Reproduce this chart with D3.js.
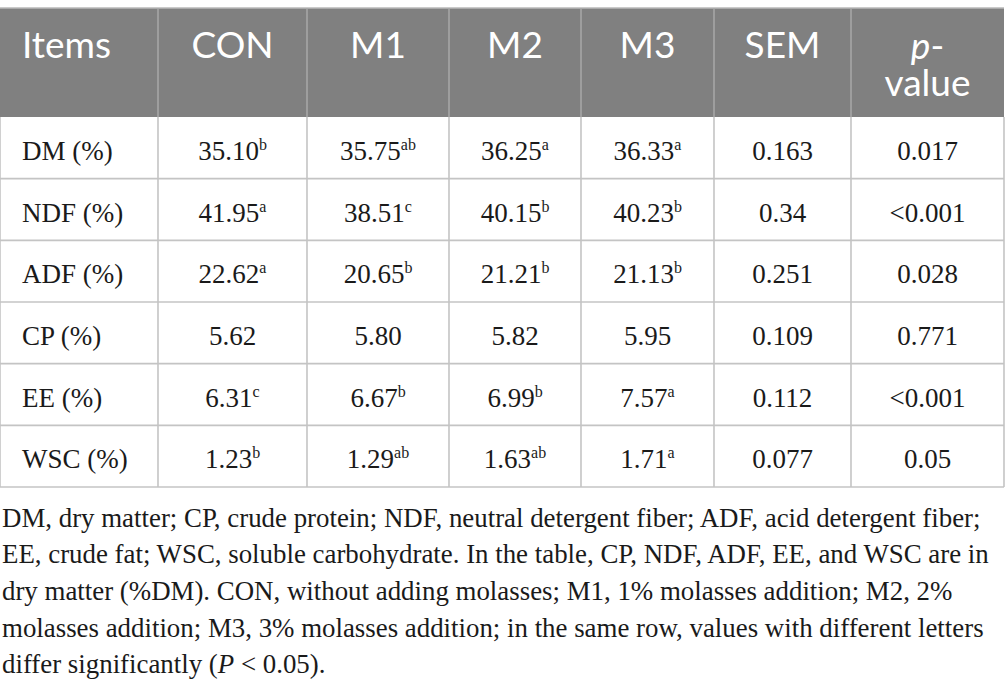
<!DOCTYPE html>
<html><head><meta charset="utf-8">
<script src="https://cdn.jsdelivr.net/npm/d3@7/dist/d3.min.js"></script>
<style>html,body{margin:0;padding:0;background:#fff;}svg{display:block;}</style>
</head><body>
<script>
// ---- data ----
const headers = ["Items","CON","M1","M2","M3","SEM","p-value"];
const items = ["DM (%)","NDF (%)","ADF (%)","CP (%)","EE (%)","WSC (%)"];
const conVals = ["35.10","41.95","22.62","5.62","6.31","1.23"];
const conSup  = ["b","a","a","","c","b"];
const m1Vals  = ["35.75","38.51","20.65","5.80","6.67","1.29"];
const m1Sup   = ["ab","c","b","","b","ab"];
const m2Vals  = ["36.25","40.15","21.21","5.82","6.99","1.63"];
const m2Sup   = ["a","b","b","","b","ab"];
const m3Vals  = ["36.33","40.23","21.13","5.95","7.57","1.71"];
const m3Sup   = ["a","b","b","","a","a"];
const semVals = ["0.163","0.34","0.251","0.109","0.112","0.077"];
const pVals   = ["0.017","<0.001","0.028","0.771","<0.001","0.05"];
const caption = [
  "DM, dry matter; CP, crude protein; NDF, neutral detergent fiber; ADF, acid detergent fiber;",
  "EE, crude fat; WSC, soluble carbohydrate. In the table, CP, NDF, ADF, EE, and WSC are in",
  "dry matter (%DM). CON, without adding molasses; M1, 1% molasses addition; M2, 2%",
  "molasses addition; M3, 3% molasses addition; in the same row, values with different letters",
  "differ significantly (P < 0.05)."
];

// ---- layout ----
const W = 1005, H = 693;
const colEdges = [0,158,307,449,581,714,851,1004];
const headTop = 8, headBottom = 117, tableBottom = 487;
const svg = d3.select("body").append("svg").attr("width",W).attr("height",H);

const y = d3.scaleBand().domain(items).range([headBottom, tableBottom]);
const x = d3.scaleOrdinal().domain(headers).range(colEdges.slice(0,-1));
const colW = h => colEdges[headers.indexOf(h)+1] - colEdges[headers.indexOf(h)];

// header
svg.append("rect").attr("x",colEdges[0]).attr("y",headTop)
  .attr("width",colEdges[7]-colEdges[0]).attr("height",headBottom-headTop).attr("fill","#808080");
svg.append("line").attr("x1",0).attr("x2",1004).attr("y1",headTop).attr("y2",headTop)
  .attr("stroke","#b8b8b8").attr("stroke-width",1.5);

const hFont = "Lato, 'Open Sans', sans-serif";
headers.forEach((h,i)=>{
  const cx = i===0 ? x(h)+22 : x(h)+colW(h)/2;
  const t = svg.append("text").attr("x",cx).attr("y",58)
    .attr("text-anchor", i===0?"start":"middle")
    .attr("font-family",hFont).attr("font-size",37).attr("fill","#fff");
  if (h==="p-value") {
    t.append("tspan").attr("x",cx).attr("y",59).attr("font-style","italic").text("p");
    t.append("tspan").text("-");
    t.append("tspan").attr("x",cx).attr("y",96).text("value");
  } else t.text(h);
});
// header dividers
colEdges.slice(1,-1).forEach(cx=>{
  svg.append("line").attr("x1",cx).attr("x2",cx).attr("y1",headTop).attr("y2",headBottom)
    .attr("stroke","#a8a8a8").attr("stroke-width",1.5);
});

// body grid
const gridCol = "#c4c4c4";
items.forEach(it=>{
  svg.append("line").attr("x1",0).attr("x2",1004).attr("y1",y(it)+y.bandwidth()).attr("y2",y(it)+y.bandwidth())
    .attr("stroke",gridCol).attr("stroke-width",1.6);
});
colEdges.forEach(cx=>{
  svg.append("line").attr("x1",cx).attr("x2",cx).attr("y1",headBottom).attr("y2",tableBottom)
    .attr("stroke",gridCol).attr("stroke-width",1.6);
});

// body cells
const bFont = "'Liberation Serif', 'Times New Roman', serif";
const cols = [
  {h:"CON",v:conVals,s:conSup},{h:"M1",v:m1Vals,s:m1Sup},{h:"M2",v:m2Vals,s:m2Sup},
  {h:"M3",v:m3Vals,s:m3Sup},{h:"SEM",v:semVals,s:null},{h:"p-value",v:pVals,s:null}
];
items.forEach((it,r)=>{
  svg.append("text").attr("x",x("Items")+22).attr("y",y(it)+43)
    .attr("font-family",bFont).attr("font-size",27).attr("fill","#1a1a1a").text(it);
  cols.forEach(c=>{
    const t = svg.append("text").attr("x",x(c.h)+colW(c.h)/2).attr("y",y(it)+43)
      .attr("text-anchor","middle").attr("font-family",bFont).attr("font-size",27).attr("fill","#1a1a1a");
    t.append("tspan").text(c.v[r]);
    if (c.s && c.s[r]) t.append("tspan").attr("font-size",16).attr("dy",-10).text(c.s[r]);
  });
});

// caption
const capBase = [527,563,600,637,673];
const capLines = caption.map((line,i)=>{
  const t = svg.append("text").attr("x",0).attr("y",capBase[i])
    .attr("font-family",bFont).attr("font-size",27).attr("fill","#1a1a1a");
  if (line.includes("(P <")) {
    const parts = line.split("P");
    t.append("tspan").text(parts[0]);
    t.append("tspan").attr("font-style","italic").text("P");
    t.append("tspan").text(parts[1]);
  } else t.text(line);
  return t;
});
const natural = capLines[0].node().getComputedTextLength();
const sx = 979 / natural;
capLines.forEach(t=>t.attr("transform",`translate(2,0) scale(${sx},1)`));
</script>
</body></html>
